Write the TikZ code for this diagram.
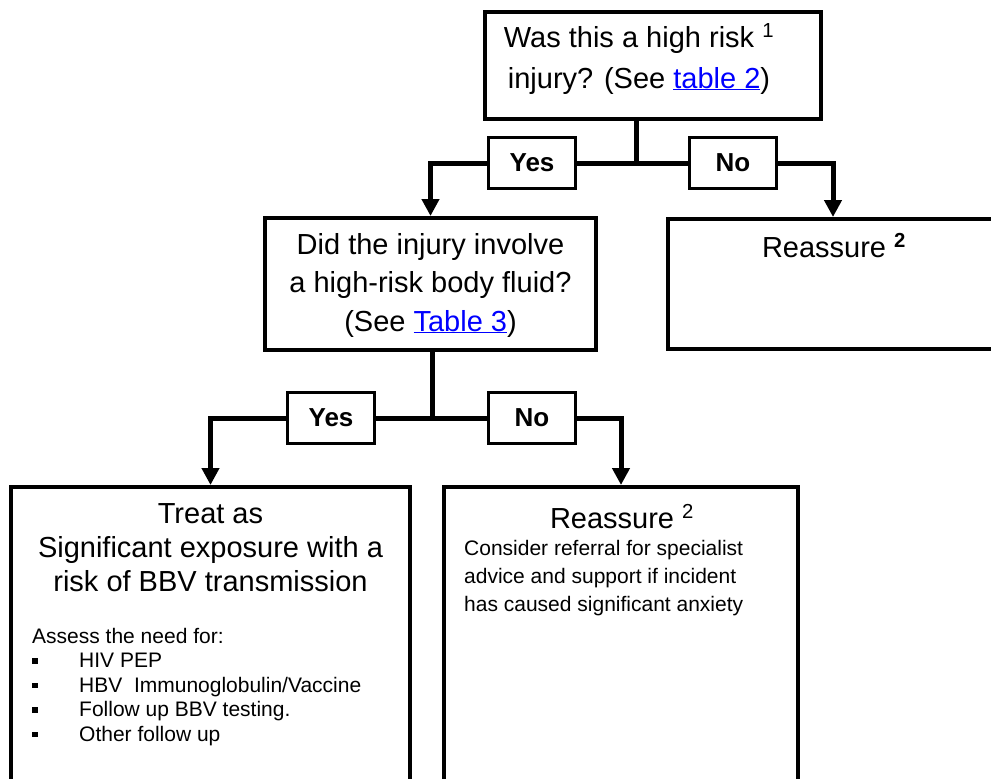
\documentclass[tikz,border=0pt]{standalone}
\usepackage{fontspec}
\setmainfont{Liberation Sans}
\usetikzlibrary{arrows.meta,positioning}

\definecolor{linkblue}{RGB}{0,0,255}
\newcommand{\doclink}[1]{\textcolor{linkblue}{\underline{#1}}}
\newcommand{\sqitem}{\makebox[47pt][l]{\rule[4pt]{5.5pt}{5.5pt}}}

\begin{document}
\begin{tikzpicture}[x=1pt, y=-1pt,
    box/.style={draw, line width=4pt, inner sep=0pt},
    answer/.style={draw, line width=2.7pt, fill=white, minimum width=87pt, minimum height=51pt,
                   font=\fontsize{26}{30}\selectfont\bfseries},
    flow/.style={line width=5pt},
    flowto/.style={flow, -{Triangle[width=17pt,length=17pt]}},
    bigtext/.style={inner sep=0pt, align=center, anchor=base, font=\fontsize{29}{38.5}\selectfont},
    smalltext/.style={inner sep=0pt, align=left, anchor=base west, font=\fontsize{21}{24.5}\selectfont}]
    \useasboundingbox (0,0) rectangle (991,779);
    \clip (0,0) rectangle (991,779);

    % boxes
    \node[box, minimum width=336pt, minimum height=107pt] (injury)   at (653,65.5)  {};
    \node[box, minimum width=331pt, minimum height=132pt] (fluid)    at (430.5,284) {};
    \node[box, minimum width=330pt, minimum height=130pt] (reassure) at (833,284)   {};
    \node[box, minimum width=399pt, minimum height=311pt] (treat)    at (210.5,642.5) {};
    \node[box, minimum width=354pt, minimum height=311pt] (minor)    at (621,642.5) {};

    % texts (anchored at the baseline of the last line)
    \node[bigtext, font=\fontsize{29}{41}\selectfont] (injurytext) at (639,88)
        {Was this a high risk \textsuperscript{1}\\injury? (See \doclink{table 2})};
    \node[bigtext] (fluidtext) at (430.5,331)
        {Did the injury involve\\a high-risk body fluid?\\(See \doclink{Table 3})};
    \node[bigtext] (reassuretext) at (834,257) {Reassure \textsuperscript{\textbf{2}}};
    \node[bigtext, font=\fontsize{29}{34}\selectfont] (treattext) at (210.5,591)
        {Treat as\\Significant exposure with a\\risk of BBV transmission};
    \node[smalltext] (needtext) at (32,741)
        {Assess the need for:\\
         \sqitem HIV PEP\\
         \sqitem HBV~ Immunoglobulin/Vaccine\\
         \sqitem Follow up BBV testing.\\
         \sqitem Other follow up};
    \node[bigtext] (minortitle) at (622,528) {Reassure \textsuperscript{2}};
    \node[smalltext, font=\fontsize{21}{28}\selectfont] (minortext) at (464,611)
        {Consider referral for specialist\\advice and support if incident\\has caused significant anxiety};

    % answers
    \coordinate (hub1) at (636,163);
    \coordinate (hub2) at (432,418);
    \node[answer] (yes1) at (532,163) {Yes};
    \node[answer] (no1)  at (733,163) {No};
    \node[answer] (yes2) at (331,418) {Yes};
    \node[answer] (no2)  at (532,418) {No};

    % connectors
    \draw[flow] (injury.south -| hub1) -- (hub1);
    \draw[flow] (yes1) -- (no1);
    \draw[flowto] (yes1.west) -| (fluid.north);
    \draw[flowto] (no1.east) -| (reassure.north);
    \draw[flow] (fluid.south -| hub2) -- (hub2);
    \draw[flow] (yes2) -- (no2);
    \draw[flowto] (yes2.west) -| (treat.north);
    \draw[flowto] (no2.east) -| (minor.north);
\end{tikzpicture}
\end{document}
